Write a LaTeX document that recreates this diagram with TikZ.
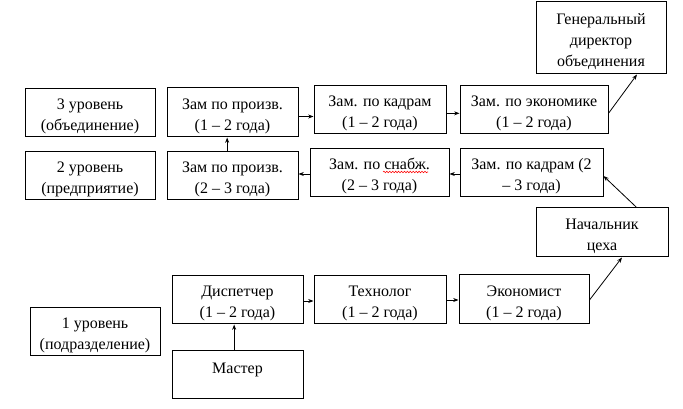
\documentclass[tikz,border=0pt]{standalone}
\usepackage{fontspec}
\setmainfont{Liberation Serif}
\usetikzlibrary{arrows.meta,decorations.pathmorphing}
\newcommand{\tp}{\rule{0pt}{13.5pt}}
\begin{document}
\begin{tikzpicture}[x=0.75pt,y=-0.75pt,
  box/.style={draw, line width=0.75pt, inner sep=0pt, align=center,
    font=\fontsize{12}{16}\selectfont},
  sz/.style 2 args={minimum width={#1*0.75pt}, minimum height={#2*0.75pt}},
  arr/.style={draw, line width=0.6pt, -{Stealth[length=4pt,width=3pt]}}]
\useasboundingbox (0,0) rectangle (683,409);
% level 3 row
\node[box,sz={130}{72}] (gen) at (601,38) {\tp Генеральный\\директор\\объединения};
\node[box,sz={130}{48}] (lvl3) at (90,113) {\tp 3 уровень\\(объединение)};
\node[box,sz={131}{49}] (zp1) at (232.5,112.5) {\tp Зам по произв.\\(1 – 2 года)};
\node[box,sz={132}{48}] (zk1) at (380,110) {\tp Зам. по кадрам\\(1 – 2 года)};
\node[box,sz={148}{48}] (ze1) at (534,110) {\tp Зам. по экономике\\(1 – 2 года)};
% level 2 row
\node[box,sz={130}{48}] (lvl2) at (90,176) {\tp 2 уровень\\(предприятие)};
\node[box,sz={131}{48}] (zp2) at (232.5,176) {\tp Зам по произв.\\(2 – 3 года)};
\node[box,sz={139}{48}] (zs) at (379.5,173) {\tp Зам. по снабж.\\(2 – 3 года)};
\node[box,sz={143}{48}] (zk2) at (531.5,173) {\tp Зам. по кадрам (2\\– 3 года)};
\node[box,sz={132}{49}] (nach) at (602,232.5) {\tp Начальник\\цеха};
% level 1 row
\node[box,sz={131}{48}] (disp) at (237.5,300) {\tp Диспетчер\\(1 – 2 года)};
\node[box,sz={132}{48}] (tech) at (380,300) {\tp Технолог\\(1 – 2 года)};
\node[box,sz={130}{49}] (econ) at (524,299.5) {\tp Экономист\\(1 – 2 года)};
\node[box,sz={130}{48}] (lvl1) at (95,332) {\tp 1 уровень\\(подразделение)};
\node[box,sz={131}{48}] (master) at (237.5,375) {\tp Мастер\\~};
% spell-check squiggle
\draw[red, line width=0.4pt, decoration={snake, amplitude=0.6pt, segment length=2.2pt}, decorate] (383,172) -- (428,172);
% connectors
\draw[arr] ([xshift=-4pt]zp2.north) -- ([xshift=-4pt]zp1.south);
\draw[arr] ([yshift=-3pt]zp1.east) -- ([yshift=-3pt]zp1.east -| zk1.west);
\draw[arr] ([yshift=-2.5pt]zk1.east) -- ([yshift=-2.5pt]zk1.east -| ze1.west);
\draw[arr] ([yshift=-2.5pt]ze1.east) -- ([xshift=27pt]gen.south);
\draw[arr] ([yshift=-0.75pt]zk2.west) -- ([yshift=-0.75pt]zk2.west -| zs.east);
\draw[arr] ([yshift=-0.75pt]zs.west) -- ([yshift=-0.75pt]zs.west -| zp2.east);
\draw[arr] ([xshift=26pt]nach.north) -- ([yshift=-2.25pt]zk2.east);
\draw[arr] ([xshift=-2.5pt]master.north) -- ([xshift=-2.5pt]disp.south);
\draw[arr] ([yshift=-0.75pt]disp.east) -- ([yshift=-0.75pt]disp.east -| tech.west);
\draw[arr] (tech.east) -- (tech.east -| econ.west);
\draw[arr] ([yshift=-0.4pt]econ.east) -- ([xshift=15pt]nach.south);
\end{tikzpicture}
\end{document}
